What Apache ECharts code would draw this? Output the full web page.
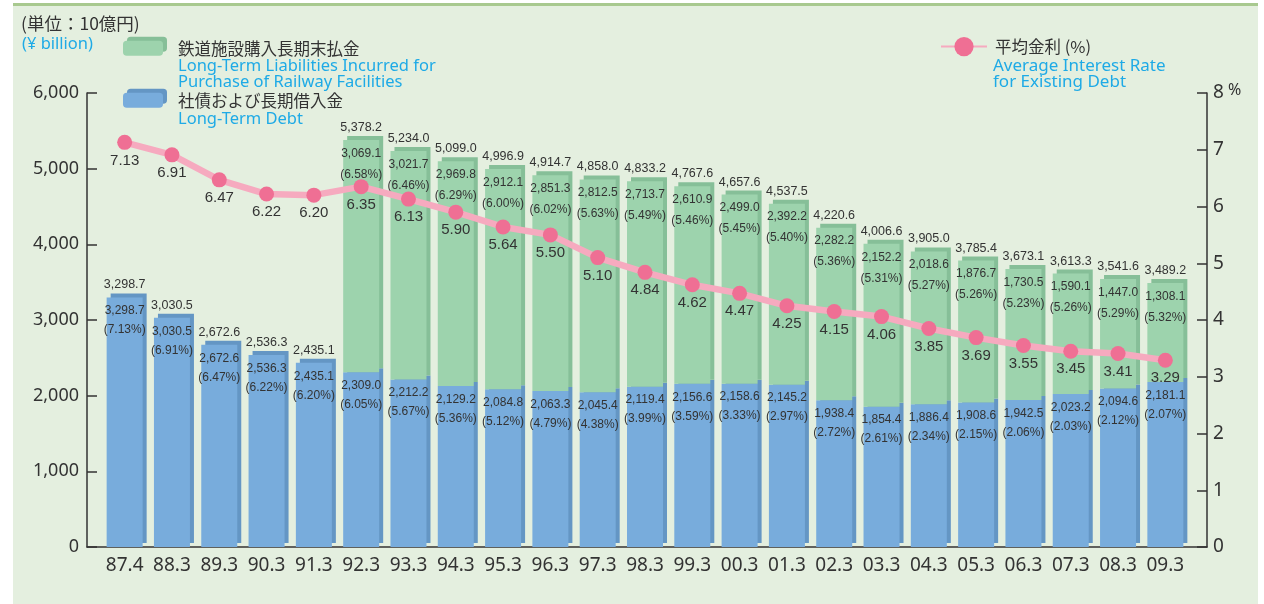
<!DOCTYPE html>
<html>
<head>
<meta charset="utf-8">
<script src="https://cdn.jsdelivr.net/npm/echarts@6/dist/echarts.min.js"></script>
<style>
html,body{margin:0;padding:0;background:#ffffff;}
#panel{position:absolute;left:13px;top:3px;width:1245px;height:601px;background:#e4efdf;border-top:3px solid #a8c98f;box-sizing:border-box;}
#chart{position:absolute;left:0;top:0;width:1264px;height:604px;}
</style>
</head>
<body>
<div id="panel"></div>
<div id="chart"></div>
<script>
const categories = ['87.4','88.3','89.3','90.3','91.3','92.3','93.3','94.3','95.3','96.3','97.3','98.3','99.3','00.3','01.3','02.3','03.3','04.3','05.3','06.3','07.3','08.3','09.3'];
const longTermDebt = [3298.7,3030.5,2672.6,2536.3,2435.1,2309.0,2212.2,2129.2,2084.8,2063.3,2045.4,2119.4,2156.6,2158.6,2145.2,1938.4,1854.4,1886.4,1908.6,1942.5,2023.2,2094.6,2181.1];
const longTermDebtRate = [7.13,6.91,6.47,6.22,6.20,6.05,5.67,5.36,5.12,4.79,4.38,3.99,3.59,3.33,2.97,2.72,2.61,2.34,2.15,2.06,2.03,2.12,2.07];
const railwayLiabilities = [null,null,null,null,null,3069.1,3021.7,2969.8,2912.1,2851.3,2812.5,2713.7,2610.9,2499.0,2392.2,2282.2,2152.2,2018.6,1876.7,1730.5,1590.1,1447.0,1308.1];
const railwayLiabilitiesRate = [null,null,null,null,null,6.58,6.46,6.29,6.00,6.02,5.63,5.49,5.46,5.45,5.40,5.36,5.31,5.27,5.26,5.23,5.26,5.29,5.32];
const totals = [3298.7,3030.5,2672.6,2536.3,2435.1,5378.2,5234.0,5099.0,4996.9,4914.7,4858.0,4833.2,4767.6,4657.6,4537.5,4220.6,4006.6,3905.0,3785.4,3673.1,3613.3,3541.6,3489.2];
const averageRate = [7.13,6.91,6.47,6.22,6.20,6.35,6.13,5.90,5.64,5.50,5.10,4.84,4.62,4.47,4.25,4.15,4.06,3.85,3.69,3.55,3.45,3.41,3.29];
const leftTicks = [0,1000,2000,3000,4000,5000,6000];
const rightTicks = [0,1,2,3,4,5,6,7,8];

const NARROW = "'Liberation Sans',sans-serif";
const MAIN = "'Noto Sans','Noto Sans CJK JP',sans-serif";
const JP = "'Noto Sans CJK JP','Noto Sans',sans-serif";
const BLUE_TXT = '#1eaae6';
const fmt1 = v => Number(v).toLocaleString('en-US',{minimumFractionDigits:1,maximumFractionDigits:1});

const chart = echarts.init(document.getElementById('chart'), null, {renderer:'canvas'});
const barW = 36;
const option = {
  backgroundColor: 'transparent',
  animation: false,
  title: [
    {text:'(単位：10億円)', left:21, top:15, padding:0, textStyle:{fontFamily:JP, fontSize:17.5, fontWeight:'normal', color:'#333'}},
    {text:'(¥ billion)', left:22, top:36, padding:0, textStyle:{fontFamily:MAIN, fontSize:16.5, fontWeight:'normal', color:BLUE_TXT}},
    {text:'Long-Term Liabilities Incurred for\nPurchase of Railway Facilities', left:178, top:58, padding:0, textStyle:{fontFamily:MAIN, fontSize:16.5, lineHeight:16, fontWeight:'normal', color:BLUE_TXT}},
    {text:'Long-Term Debt', left:178, top:111, padding:0, textStyle:{fontFamily:MAIN, fontSize:16.5, fontWeight:'normal', color:BLUE_TXT}},
    {text:'Average Interest Rate\nfor Existing Debt', left:993, top:58, padding:0, textStyle:{fontFamily:MAIN, fontSize:17, lineHeight:16, fontWeight:'normal', color:BLUE_TXT}}
  ],
  legend: [
    {data:['鉄道施設購入長期末払金'], left:123, top:40, padding:0, itemWidth:40, itemHeight:15,
     itemStyle:{shadowColor:'#86bf98', shadowBlur:0, shadowOffsetX:4, shadowOffsetY:-4},
     textStyle:{fontFamily:JP, fontSize:16.5, color:'#333', padding:[0,0,0,10]}},
    {data:['社債および長期借入金'], left:123, top:92, padding:0, itemWidth:40, itemHeight:15,
     itemStyle:{shadowColor:'#6496c4', shadowBlur:0, shadowOffsetX:4, shadowOffsetY:-4},
     textStyle:{fontFamily:JP, fontSize:16.5, color:'#333', padding:[0,0,0,10]}},
    {data:['平均金利 (%)'], left:940, top:37, padding:0, itemWidth:46, itemHeight:24,
     textStyle:{fontFamily:JP, fontSize:16.5, color:'#333', padding:[0,0,0,3]}}
  ],
  grid: [
    {left:87, right:57, top:93, bottom:57},
    {left:101, right:75, top:93, bottom:57}
  ],
  xAxis: [
    {gridIndex:0, type:'value', min:0, max:1, axisLine:{show:true, lineStyle:{color:'#333', width:1.5}}, axisTick:{show:false}, axisLabel:{show:false}, splitLine:{show:false}},
    {gridIndex:1, type:'category', data:categories, axisLine:{show:false}, axisTick:{show:false},
     axisLabel:{fontFamily:MAIN, fontSize:19, color:'#333', margin:9, interval:0}}
  ],
  yAxis: [
    {gridIndex:0, type:'value', position:'left', min:0, max:6000, interval:1000,
     axisLine:{show:true, lineStyle:{color:'#333', width:1.5}},
     axisTick:{show:true, inside:true, length:10, lineStyle:{color:'#333', width:1.5}},
     axisLabel:{fontFamily:MAIN, fontSize:18, color:'#333', margin:8, formatter:v => v.toLocaleString('en-US')},
     splitLine:{show:false}},
    {gridIndex:0, type:'value', position:'right', min:0, max:8, interval:1,
     axisLine:{show:true, lineStyle:{color:'#333', width:1.5}},
     axisTick:{show:true, inside:true, length:10, lineStyle:{color:'#333', width:1.5}},
     axisLabel:{fontFamily:MAIN, fontSize:19, color:'#333', margin:6, formatter:v => v===8 ? '8{p| %}' : String(v),
       rich:{p:{fontFamily:MAIN, fontSize:16, color:'#333', padding:[0,0,5,0]}}},
     splitLine:{show:false}},
    {gridIndex:1, type:'value', min:0, max:6000, show:false},
    {gridIndex:1, type:'value', min:0, max:8, show:false}
  ],
  series: [
    {name:'社債および長期借入金', type:'bar', xAxisIndex:1, yAxisIndex:2, stack:'debt', barWidth:barW, barGap:'-100%',
     data:longTermDebt,
     itemStyle:{color:'#78acdc', shadowColor:'#6496c4', shadowBlur:0, shadowOffsetX:4, shadowOffsetY:-4},
     label:{show:true, position:'insideTop', distance:4, fontFamily:NARROW, fontSize:12, lineHeight:19, color:'#333',
       formatter:p => fmt1(p.value) + '\n(' + longTermDebtRate[p.dataIndex].toFixed(2) + '%)'}},
    {name:'鉄道施設購入長期末払金', type:'bar', xAxisIndex:1, yAxisIndex:2, stack:'debt', barWidth:barW, barGap:'-100%',
     data:railwayLiabilities,
     itemStyle:{color:'#9dd3ad', shadowColor:'#86bf98', shadowBlur:0, shadowOffsetX:4, shadowOffsetY:-4},
     label:{show:true, position:'insideTop', distance:3, fontFamily:NARROW, fontSize:12, lineHeight:21, color:'#333',
       formatter:p => p.value==null ? '' : fmt1(p.value) + '\n(' + railwayLiabilitiesRate[p.dataIndex].toFixed(2) + '%)'}},
    {name:'total', type:'bar', xAxisIndex:1, yAxisIndex:2, barWidth:barW, barGap:'-100%', data:totals, silent:true,
     itemStyle:{color:'rgba(0,0,0,0)'},
     label:{show:true, position:'top', distance:6, fontFamily:NARROW, fontSize:12.5, color:'#333', formatter:p => fmt1(p.value)}},
    {name:'平均金利 (%)', type:'line', xAxisIndex:1, yAxisIndex:3, data:averageRate, z:5,
     symbol:'circle', symbolSize:15,
     lineStyle:{color:'#f6aabf', width:6.5},
     itemStyle:{color:'#ef6f94'},
     label:{show:true, position:'bottom', distance:3, fontFamily:NARROW, fontSize:15, color:'#333', formatter:p => p.value.toFixed(2)}}
  ]
};
chart.setOption(option);
</script>
</body>
</html>
